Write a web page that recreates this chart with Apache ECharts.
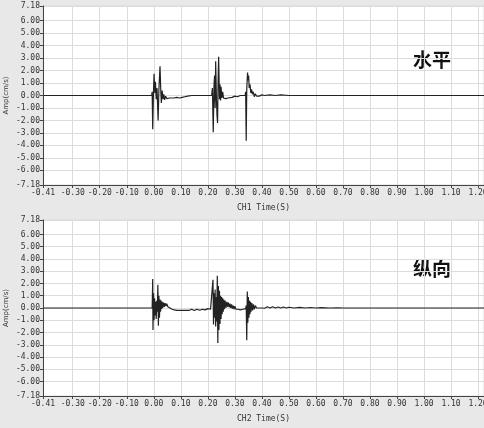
<!DOCTYPE html>
<html>
<head>
<meta charset="utf-8">
<script src="https://cdn.jsdelivr.net/npm/echarts@6/dist/echarts.min.js"></script>
<style>
  html, body { margin: 0; padding: 0; background: #e8e8e8; }
  #chart { width: 484px; height: 428px; }
</style>
</head>
<body>
<div id="chart"></div>
<script>
// Time axis tick labels (s) and amplitude tick labels (cm/s)
const timeTicks = [-0.41, -0.30, -0.20, -0.10, 0.00, 0.10, 0.20, 0.30, 0.40, 0.50, 0.60, 0.70, 0.80, 0.90, 1.00, 1.10, 1.20];
const ampTicks = [7.18, 6, 5, 4, 3, 2, 1, 0, -1, -2, -3, -4, -5, -6, -7.18];
const timeRange = [-0.41, 1.222];
const ampRange = [-7.18, 7.18];

// Panel captions
const panelNames = ['水平', '纵向'];
const axisNames = ['CH1 Time(S)', 'CH2 Time(S)'];

// CH1 (horizontal) velocity record: [time s, amplitude cm/s]
const ch1 = [
  [-0.41, 0], [-0.008, 0], [-0.006, 0.3], [-0.004, -2.7], [-0.001, 0.4], [0.001, 1.75],
  [0.004, 0.2], [0.006, 1.1], [0.009, -0.3], [0.012, 0.6], [0.016, -2.0], [0.019, 0.5],
  [0.023, 2.35], [0.026, 0.3], [0.028, -0.6], [0.031, 0.4], [0.034, -0.3], [0.037, 0.1],
  [0.040, -0.35], [0.044, -0.05], [0.048, -0.25], [0.053, -0.1], [0.058, -0.2], [0.065, -0.15],
  [0.075, -0.2], [0.085, -0.15], [0.095, -0.2], [0.105, -0.15], [0.115, -0.1], [0.125, -0.05],
  [0.14, 0], [0.214, 0], [0.217, 0.6], [0.220, -2.95], [0.223, 0.9], [0.225, 1.6],
  [0.227, -1.0], [0.229, 2.75], [0.232, -0.4], [0.234, -1.6], [0.236, -2.2], [0.238, 1.2],
  [0.240, 3.1], [0.243, -0.3], [0.245, 0.9], [0.247, -0.4], [0.249, 0.7], [0.252, -0.2],
  [0.255, 0.3], [0.258, -0.2], [0.262, -0.1], [0.266, -0.25], [0.270, -0.1], [0.275, -0.2],
  [0.28, -0.1], [0.29, -0.15], [0.30, -0.05], [0.31, -0.1], [0.32, 0], [0.338, 0],
  [0.340, 0.3], [0.342, -3.63], [0.344, 0.5], [0.347, 1.85], [0.349, 1.2], [0.351, 1.6],
  [0.353, 0.6], [0.356, 0.9], [0.359, 0.2], [0.362, 0.5], [0.365, 0.1], [0.368, 0.3],
  [0.372, -0.1], [0.376, 0.15], [0.380, -0.05], [0.385, 0.1], [0.39, -0.05], [0.40, 0.05],
  [0.41, 0], [0.43, 0.05], [0.45, 0], [0.47, 0.05], [0.50, 0], [1.222, 0]
];

// CH2 (vertical) velocity record: [time s, amplitude cm/s]
const ch2 = [
  [-0.41, 0], [-0.006, 0], [-0.004, 2.36], [-0.003, -1.8], [-0.001, 1.2], [0.001, -1.0],
  [0.003, 0.8], [0.005, -0.6], [0.007, 0.5], [0.009, -0.9], [0.011, 0.6], [0.013, -0.3],
  [0.015, 1.9], [0.017, -1.45], [0.019, 1.0], [0.021, -0.8], [0.023, 0.7], [0.025, -0.3],
  [0.027, 0.6], [0.029, -0.1], [0.031, 0.5], [0.033, 0.0], [0.036, 0.45], [0.039, 0.1],
  [0.042, 0.4], [0.045, 0.15], [0.048, 0.35], [0.052, 0.1], [0.056, 0.25], [0.060, 0.0],
  [0.064, 0.1], [0.068, -0.1], [0.072, 0.0], [0.076, -0.15], [0.08, -0.05], [0.085, -0.2],
  [0.09, -0.1], [0.095, -0.2], [0.10, -0.1], [0.105, -0.2], [0.11, -0.1], [0.115, -0.2],
  [0.12, -0.1], [0.13, -0.2], [0.14, -0.1], [0.15, -0.2], [0.16, -0.1], [0.17, -0.18],
  [0.18, -0.1], [0.19, -0.15], [0.20, -0.05], [0.21, -0.1], [0.217, 0], [0.219, 2.3],
  [0.221, -1.35], [0.223, 1.2], [0.225, -0.8], [0.227, 1.5], [0.229, -1.5], [0.231, 0.9],
  [0.233, -1.1], [0.235, 2.63], [0.237, -2.86], [0.239, 1.8], [0.241, -1.8], [0.243, 1.4],
  [0.245, -1.3], [0.247, 1.0], [0.249, -0.9], [0.251, 0.9], [0.253, -0.5], [0.255, 0.8],
  [0.257, -0.3], [0.259, 0.7], [0.261, -0.1], [0.264, 0.6], [0.267, 0.0], [0.270, 0.5],
  [0.273, 0.1], [0.276, 0.45], [0.279, 0.05], [0.282, 0.35], [0.285, 0.0], [0.288, 0.3],
  [0.291, -0.05], [0.294, 0.2], [0.297, -0.1], [0.300, 0.15], [0.304, -0.1], [0.308, 0.05],
  [0.312, -0.1], [0.316, 0.0], [0.320, -0.15], [0.325, -0.05], [0.330, -0.1], [0.335, 0],
  [0.340, -0.05], [0.342, 0.2], [0.344, -2.64], [0.346, 1.35], [0.348, -1.2], [0.350, 0.9],
  [0.352, -0.8], [0.354, 0.6], [0.356, -0.5], [0.358, 0.5], [0.360, -0.3], [0.363, 0.4],
  [0.366, -0.2], [0.369, 0.3], [0.372, -0.1], [0.376, 0.2], [0.38, 0.0], [0.385, 0.15],
  [0.39, 0.0], [0.395, 0.15], [0.40, 0.0], [0.405, 0.12], [0.41, -0.02], [0.42, 0.1],
  [0.43, 0], [0.44, 0.1], [0.45, 0], [0.46, 0.08], [0.47, 0], [0.48, 0.08],
  [0.49, 0], [0.50, 0.06], [0.52, 0], [0.54, 0.05], [0.56, 0], [0.58, 0.04],
  [0.60, 0], [0.62, 0.03], [0.65, 0], [0.68, 0.02], [0.70, 0], [1.222, 0]
];

const records = [ch1, ch2];
const grids = [
  { left: 43, right: 0, top: 6, height: 179 },
  { left: 43, right: 0, top: 220, height: 176 }
];

const labelFont = { fontFamily: 'DejaVu Sans Mono', fontSize: 8, color: '#333' };
const gridLineStyle = { color: '#dcdcdc', width: 1, type: 'solid' };

const option = {
  animation: false,
  backgroundColor: '#e8e8e8',
  grid: grids.map(g => Object.assign({
    show: true, backgroundColor: '#fff', borderColor: '#dcdcdc', borderWidth: 1,
    containLabel: false, outerBoundsMode: 'none'
  }, g)),
  xAxis: grids.map((g, i) => ({
    type: 'value', gridIndex: i, min: timeRange[0], max: timeRange[1],
    name: axisNames[i], nameLocation: 'middle', nameGap: 19, nameMoveOverlap: false,
    nameTextStyle: { fontFamily: 'DejaVu Sans Mono', fontSize: 8, color: '#333' },
    axisLine: { show: true, onZero: false, lineStyle: { color: '#444' } },
    axisTick: { show: true, length: 3, customValues: timeTicks, lineStyle: { color: '#444' } },
    axisLabel: Object.assign({ customValues: timeTicks, margin: 4, formatter: v => v.toFixed(2) }, labelFont),
    splitLine: { show: false },
    z: 6
  })),
  yAxis: grids.map((g, i) => ({
    type: 'value', gridIndex: i, min: ampRange[0], max: ampRange[1],
    name: 'Amp(cm/s)', nameLocation: 'middle', nameGap: 33, nameRotate: 90, nameMoveOverlap: false,
    nameTextStyle: { fontFamily: 'DejaVu Sans', fontSize: 7, color: '#333' },
    axisLine: { show: true, onZero: false, lineStyle: { color: '#444' } },
    axisTick: { show: true, length: 3, customValues: ampTicks, lineStyle: { color: '#444' } },
    axisLabel: Object.assign({ customValues: ampTicks, margin: 3, formatter: v => v.toFixed(2) }, labelFont),
    splitLine: { show: false },
    z: 6
  })),
  series: [],
  graphic: panelNames.map((t, i) => ({
    type: 'text', left: 413, top: i === 0 ? 50 : 259,
    style: { text: t, fontFamily: '"Noto Sans CJK SC"', fontSize: 19, fontWeight: 'bold', fill: '#111' }
  }))
};

records.forEach((rec, i) => {
  // grid lines, kept underneath the trace
  option.series.push({
    type: 'line', xAxisIndex: i, yAxisIndex: i, data: [[timeRange[0], 0]],
    symbol: 'none', lineStyle: { opacity: 0 }, silent: true, z: 1,
    markLine: {
      z: 1, silent: true, symbol: 'none', label: { show: false }, lineStyle: gridLineStyle,
      data: timeTicks.slice(1).map(v => ({ xAxis: v }))
        .concat(ampTicks.map(v => ({ yAxis: v })))
    }
  });
  option.series.push({
    type: 'line', xAxisIndex: i, yAxisIndex: i, data: rec,
    symbol: 'none', z: 4,
    lineStyle: { color: '#222', width: 1.2 }
  });
});

const chart = echarts.init(document.getElementById('chart'), null, { renderer: 'canvas' });
chart.setOption(option);
</script>
</body>
</html>
